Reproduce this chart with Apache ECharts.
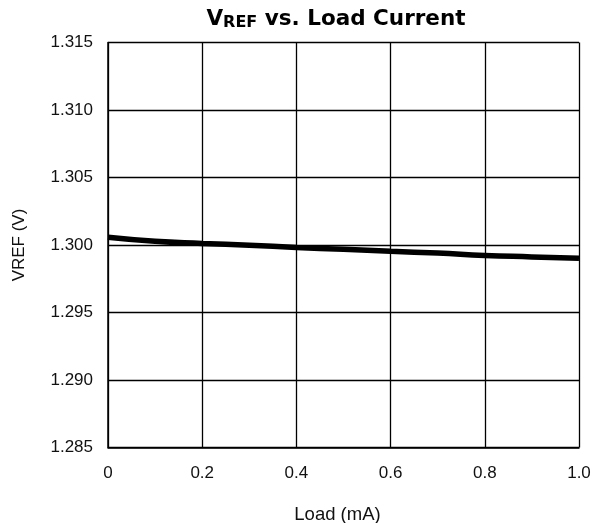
<!DOCTYPE html>
<html><head><meta charset="utf-8">
<script src="https://cdn.jsdelivr.net/npm/echarts@6/dist/echarts.min.js"></script>
<style>html,body{margin:0;padding:0;background:#fff}#c{width:595px;height:523px}</style>
</head><body><div id="c"></div>
<script>
const loadMA = [0, 0.1, 0.2, 0.3, 0.4, 0.5, 0.6, 0.7, 0.8, 0.9, 1.0];
const vref = [1.30058, 1.30028, 1.30012, 1.29998, 1.29982, 1.29968, 1.29953, 1.29940, 1.29923, 1.29912, 1.29901];
const xTicks = ['0', '0.2', '0.4', '0.6', '0.8', '1.0'];
const yTicks = ['1.285', '1.290', '1.295', '1.300', '1.305', '1.310', '1.315'];

const chart = echarts.init(document.getElementById('c'));
chart.setOption({
  animation: false,
  title: {
    text: '{v|V}{s|REF}{v| vs. Load Current}',
    left: 331, top: 2, textAlign: 'center',
    textStyle: {
      rich: {
        v: {fontFamily: 'DejaVu Sans', fontWeight: 'bold', fontSize: 21.5, color: '#000'},
        s: {fontFamily: 'DejaVu Sans', fontWeight: 'bold', fontSize: 16, color: '#000', verticalAlign: 'bottom', padding: [8, 0, 0, 0]}
      }
    }
  },
  grid: {left: 108, right: 16, top: 42.5, bottom: 75.5, outerBoundsMode: 'none', containLabel: false},
  xAxis: {
    type: 'value', min: 0, max: 1, interval: 0.2,
    name: 'Load (mA)', nameLocation: 'middle', nameGap: 58,
    nameTextStyle: {fontFamily: 'Liberation Sans', fontSize: 18.5, color: '#111', padding: [0, 12, 0, 0]},
    axisLine: {lineStyle: {color: '#000', width: 1.5}},
    axisTick: {show: false},
    axisLabel: {margin: 17, fontFamily: 'Liberation Sans', fontSize: 17, color: '#111',
      formatter: v => xTicks[Math.round(v / 0.2)]},
    splitLine: {lineStyle: {color: '#000', width: 1.3}}
  },
  yAxis: {
    type: 'value', min: 1.285, max: 1.315, interval: 0.005,
    name: 'VREF (V)', nameLocation: 'middle', nameGap: 80, nameRotate: 90,
    nameTextStyle: {fontFamily: 'Liberation Sans', fontSize: 17, color: '#111'},
    axisLine: {show: true, lineStyle: {color: '#000', width: 1.5}},
    axisTick: {show: false},
    axisLabel: {margin: 15, fontFamily: 'Liberation Sans', fontSize: 17, color: '#111',
      formatter: v => yTicks[Math.round((v - 1.285) / 0.005)]},
    splitLine: {lineStyle: {color: '#000', width: 1.3}}
  },
  series: [{
    type: 'line', smooth: true, showSymbol: false,
    data: loadMA.map((x, i) => [x, vref[i]]),
    lineStyle: {color: '#000', width: 5.5}
  }]
});
</script></body></html>
